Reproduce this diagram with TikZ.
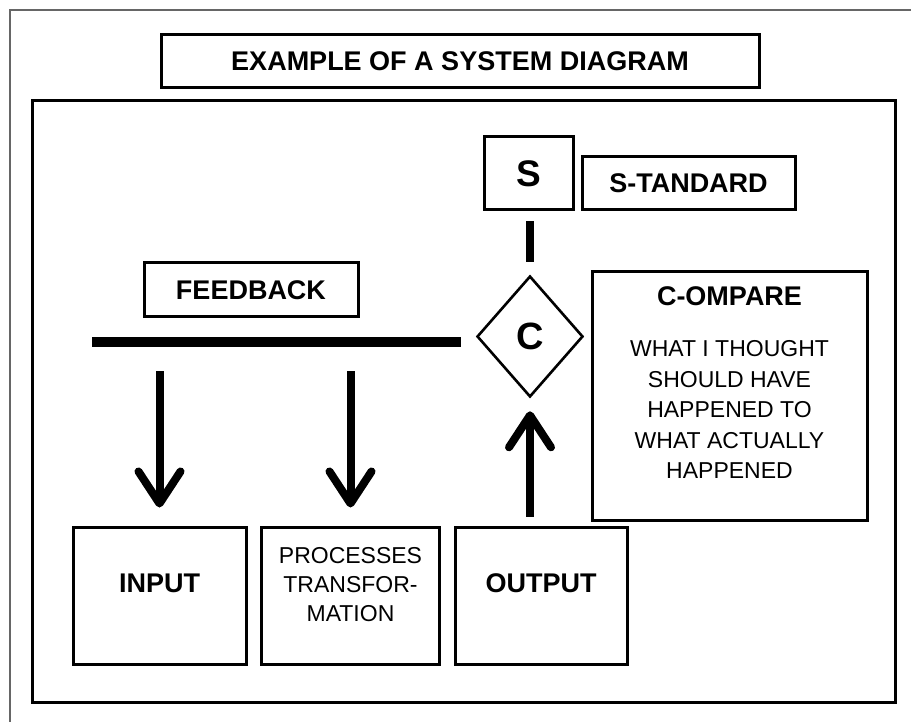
\documentclass[tikz,border=0pt]{standalone}
\usepackage{fontspec}
\setmainfont{Liberation Sans}
\usetikzlibrary{positioning}
\usetikzlibrary{arrows.meta}
\usetikzlibrary{shapes.geometric}

\begin{document}
\begin{tikzpicture}[x=1pt,y=-1pt,
    box/.style={draw,line width=3pt,inner sep=0pt},
    bold/.style={font=\fontsize{27}{30}\selectfont\bfseries,inner sep=0pt},
    plain/.style={font=\fontsize{23}{29}\selectfont,align=center,inner sep=0pt},
    arr/.style={line width=8pt,-{Straight Barb[length=32pt,width=42pt,round]}}]
  \useasboundingbox (0,0) rectangle (911,722);
  % outer frame, only top and left show
  \draw[gray!80!black,line width=1.2pt] (911,10) -- (10,10) -- (10,722);
  \node[box,minimum width=863pt,minimum height=601pt] (frame) at (464,401.5) {};

  \node[box,bold,minimum width=598pt,minimum height=53pt] (title) at (460,61.5) {EXAMPLE OF A SYSTEM DIAGRAM};

  \node[box,minimum width=89pt,minimum height=73pt,font=\fontsize{37}{40}\selectfont\bfseries] (sbox) at (528.5,173.5) {S};
  \node[box,bold,minimum width=213pt,minimum height=53pt] (standard) at (688.5,183.5) {S-TANDARD};
  \node[box,bold,minimum width=214pt,minimum height=54pt] (feedback) at (251,290) {FEEDBACK};

  \node[diamond,draw,line width=2.6pt,inner sep=0pt,minimum width=106pt,minimum height=121pt,
    font=\fontsize{38}{40}\selectfont\bfseries] (dia) at (530,336.5) {C};

  \node[box,minimum width=275pt,minimum height=248pt] (compare) at (729.5,396) {};
  \node[anchor=north,inner sep=0pt,align=center,font=\fontsize{23}{30.5}\selectfont] (comparetxt)
    at ([yshift=-16pt]compare.north)
    {{\fontsize{27}{30.5}\selectfont\bfseries C-OMPARE}\\[20.5pt]
     WHAT I THOUGHT\\SHOULD HAVE\\HAPPENED TO\\WHAT ACTUALLY\\HAPPENED};

  \node[box,minimum width=173pt,minimum height=137pt] (input) at (159.5,595.5) {};
  \node[box,minimum width=178pt,minimum height=137pt] (process) at (350.5,595.5) {};
  \node[box,minimum width=172pt,minimum height=137pt] (output) at (541,595.5) {};
  \node[bold] (inputtxt) at ([yshift=12pt]input.center) {INPUT};
  \node[plain] (processtxt) at ([yshift=11pt]process.center) {PROCESSES\\TRANSFOR-\\MATION};
  \node[bold] (outputtxt) at ([yshift=12pt]output.center) {OUTPUT};

  % feedback line and arrows
  \coordinate (fbl) at (92,342);
  \draw[line width=10pt] (fbl) -- ([xshift=-15pt]dia.west |- fbl);
  \draw[arr,shorten <=29pt,shorten >=18pt] (input.north |- fbl) -- (input.north);
  \draw[arr,shorten <=29pt,shorten >=18pt] (process.north |- fbl) -- (process.north);
  \draw[arr,shorten <=9pt,shorten >=13pt] (dia.south |- output.north) -- (dia.south);
  \draw[line width=8pt,shorten <=10pt,shorten >=13pt] (sbox.south -| dia) -- (dia.north);
\end{tikzpicture}
\end{document}
